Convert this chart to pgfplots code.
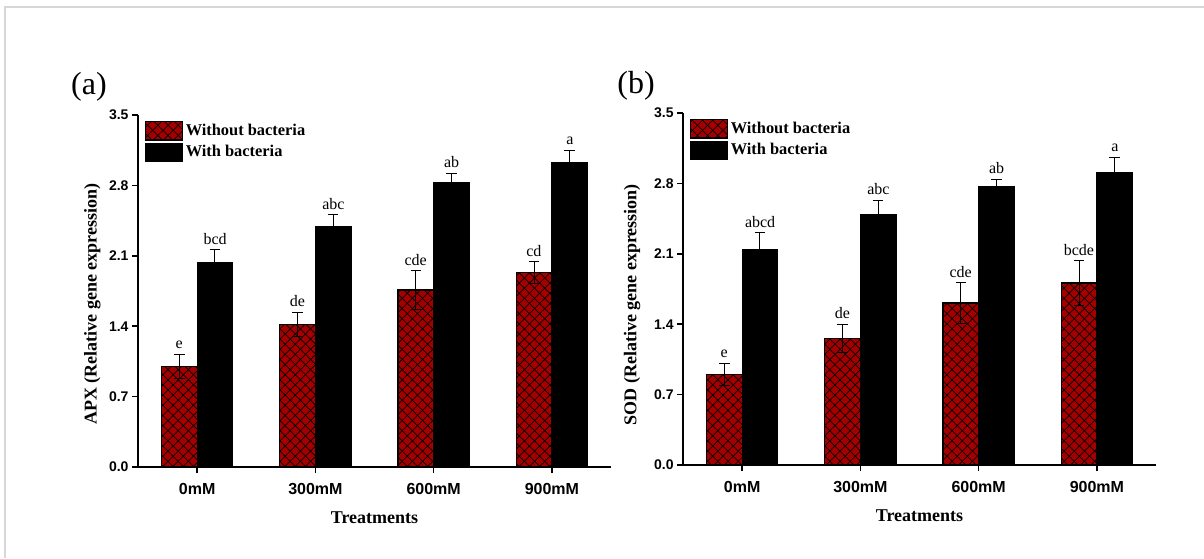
\documentclass[border=0pt]{standalone}
\usepackage{pgfplots}
\pgfplotsset{compat=1.18}
\usepackage{pgfplotstable}
\usepackage{fontspec}
\setmainfont{Liberation Serif}
\setsansfont{Liberation Sans}
\usetikzlibrary{patterns.meta}
\definecolor{barred}{RGB}{165,0,0}
\definecolor{framegray}{RGB}{215,215,215}

\pgfplotstableread{
x  w    ew    b    eb
0  1.00 0.12  2.03 0.13
1  1.42 0.12  2.39 0.12
2  1.76 0.19  2.83 0.09
3  1.93 0.11  3.03 0.12
}\apx
\pgfplotstableread{
x  w    ew    b    eb
0  0.90 0.11  2.14 0.17
1  1.26 0.14  2.49 0.14
2  1.61 0.20  2.77 0.07
3  1.81 0.22  2.91 0.15
}\sod

\tikzset{lab/.style={anchor=south, font=\fontsize{8}{9}\selectfont, inner sep=1pt, yshift=1.5pt}}

\pgfplotsset{
  panel/.style={
    scale only axis,
    width=236.5pt, height=176pt,
    xmin=-0.5, xmax=3.5, ymin=0, ymax=3.5,
    axis x line*=bottom, axis y line*=left,
    axis line style={line width=0.8pt},
    tick style={line width=0.8pt, black},
    tick align=outside, major tick length=3pt,
    xtick={0,1,2,3},
    xticklabels={0mM,300mM,600mM,900mM},
    ytick={0,0.7,1.4,2.1,2.8,3.5},
    yticklabel style={/pgf/number format/fixed, /pgf/number format/fixed zerofill, /pgf/number format/precision=1, font=\sffamily\bfseries\fontsize{7}{8}\selectfont, xshift=1.8pt},
    xticklabel style={font=\sffamily\bfseries\fontsize{8}{9}\selectfont, yshift=-1.5pt},
    /pgf/number format/assume math mode=true,
    xlabel={Treatments},
    xlabel style={font=\bfseries\fontsize{9}{10}\selectfont, yshift=-2pt},
    ybar=0pt, bar width=17.8pt,
    legend style={at={(0.013,0.985)}, anchor=north west, draw=none, fill=none,
      font=\bfseries\fontsize{8.2}{9}\selectfont, row sep=0.6pt,
      inner sep=0pt, nodes={inner sep=1.5pt}},
    legend cell align=left,
    legend image code/.code={\draw[#1] (0pt,-4.6pt) rectangle (18.5pt,4.6pt);},
    clip=false,
  },
  redbar/.style={fill=barred, draw=black, line width=0.6pt,
    postaction={pattern={Lines[angle=45,distance=3.6pt,line width=0.35pt]}, pattern color=black},
    postaction={pattern={Lines[angle=-45,distance=3.6pt,line width=0.35pt]}, pattern color=black}},
  blackbar/.style={fill=black, draw=black, line width=0.6pt},
  errs/.style={error bars/.cd, y dir=both, y explicit,
    error bar style={line width=0.5pt, black},
    error mark options={rotate=90, mark size=2.6pt, line width=0.5pt, black}},
}

\begin{document}
\begin{tikzpicture}
\useasboundingbox (0,0) rectangle (602pt,279pt);
\draw[framegray, line width=1pt] (2.5pt,0) -- (2.5pt,275.5pt) -- (602pt,275.5pt);

\node[font=\fontsize{16}{18}\selectfont] at (44.5pt,235.5pt) {(a)};
\node[font=\fontsize{16}{18}\selectfont] at (318pt,236pt) {(b)};

% Panel (a)
\begin{axis}[panel, at={(69pt,45.5pt)}, anchor=south west,
  ylabel={APX (Relative gene expression)},
  ylabel style={font=\bfseries\fontsize{9}{10}\selectfont, at={(axis description cs:-0.064,0.463)}, anchor=south}]
\addplot[redbar, errs] table[x=x, y=w, y error=ew] {\apx};
\addplot[blackbar, errs] table[x=x, y=b, y error=eb] {\apx};
\legend{Without bacteria, With bacteria}
\node[lab] at (axis cs:-0.152,1.12) {e};
\node[lab] at (axis cs:0.848,1.54) {de};
\node[lab] at (axis cs:1.848,1.95) {cde};
\node[lab] at (axis cs:2.848,2.04) {cd};
\node[lab] at (axis cs:0.152,2.16) {bcd};
\node[lab] at (axis cs:1.152,2.51) {abc};
\node[lab] at (axis cs:2.152,2.92) {ab};
\node[lab] at (axis cs:3.152,3.15) {a};
\end{axis}

% Panel (b)
\begin{axis}[panel, at={(341.5pt,46.5pt)}, anchor=south west,
  ylabel={SOD (Relative gene expression)},
  ylabel style={font=\bfseries\fontsize{9}{10}\selectfont, at={(axis description cs:-0.075,0.455)}, anchor=south}]
\addplot[redbar, errs] table[x=x, y=w, y error=ew] {\sod};
\addplot[blackbar, errs] table[x=x, y=b, y error=eb] {\sod};
\legend{Without bacteria, With bacteria}
\node[lab] at (axis cs:-0.152,1.01) {e};
\node[lab] at (axis cs:0.848,1.40) {de};
\node[lab] at (axis cs:1.848,1.81) {cde};
\node[lab] at (axis cs:2.848,2.03) {bcde};
\node[lab] at (axis cs:0.152,2.31) {abcd};
\node[lab] at (axis cs:1.152,2.63) {abc};
\node[lab] at (axis cs:2.152,2.84) {ab};
\node[lab] at (axis cs:3.152,3.06) {a};
\end{axis}
\end{tikzpicture}
\end{document}
